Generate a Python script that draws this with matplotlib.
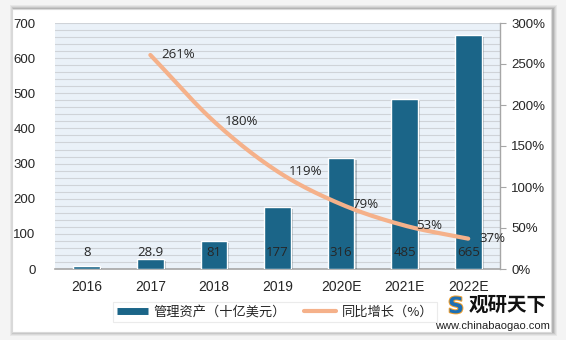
import numpy as np
import matplotlib
matplotlib.use("Agg")
import matplotlib.pyplot as plt
from matplotlib import patheffects as pe
from matplotlib.patches import Rectangle
from matplotlib.lines import Line2D

plt.rcParams['font.family'] = ['Liberation Sans', 'Noto Sans CJK SC', 'DejaVu Sans']

categories = ["2016", "2017", "2018", "2019", "2020E", "2021E", "2022E"]
aum = [8, 28.9, 81, 177, 316, 485, 665]
aum_labels = ["8", "28.9", "81", "177", "316", "485", "665"]
growth = [None, 2.61, 1.80, 1.19, 0.79, 0.53, 0.37]
growth_labels = [None, "261%", "180%", "119%", "79%", "53%", "37%"]
left_ticks = [0, 100, 200, 300, 400, 500, 600, 700]
right_ticks = [0, 0.5, 1.0, 1.5, 2.0, 2.5, 3.0]
right_tick_labels = ["0%", "50%", "100%", "150%", "200%", "250%", "300%"]
legend_labels = ["管理资产（十亿美元）", "同比增长（%）"]

bar_color = "#1b6588"
line_color = "#f5b18a"
text_color = "#262626"

W, H = 566, 340
fig = plt.figure(figsize=(W / 100, H / 100), dpi=100)
fig.patch.set_facecolor("#f4f4f4")

# white panel with shadow
for i, a in enumerate([0.05, 0.06, 0.08, 0.10]):
    off = 4 - i
    fig.patches.append(Rectangle(((12 - off + 2) / W, 1 - (332 + off) / H), (539 + 2 * off) / W, (323 + 2 * off) / H,
                                 transform=fig.transFigure, facecolor="black", alpha=a, edgecolor="none", zorder=0))
fig.patches.append(Rectangle((12 / W, 1 - 332 / H), 539 / W, 323 / H, transform=fig.transFigure,
                             facecolor="white", edgecolor="#d9d9d9", lw=0.8, zorder=1))

ax = fig.add_axes([55 / W, 1 - 269 / H, 445 / W, 246 / H])
ax.set_zorder(2)
ax.set_facecolor("#eaf1f8")
x = np.arange(len(categories))
ax.set_xlim(-0.5, len(categories) - 0.5)
ax.set_ylim(0, 700)
ax.set_yticks(left_ticks)
ax.set_yticks(np.arange(0, 701, 20), minor=True)
ax.yaxis.grid(True, which="both", color="#cfd3d8", lw=0.8)
ax.set_axisbelow(True)
ax.tick_params(axis="y", length=0, labelsize=9.5, colors=text_color, pad=14, which="both")
ax.tick_params(axis="x", length=0, labelsize=10, colors=text_color, pad=8)
ax.set_xticks(x)
ax.set_xticklabels(categories)
for s in ["top", "right", "left"]:
    ax.spines[s].set_visible(False)
ax.spines["bottom"].set_color("#a6a6a6")
ax.spines["bottom"].set_linewidth(1.2)

bars = ax.bar(x, aum, width=0.42, color=bar_color, edgecolor="white", lw=1.0, zorder=3,
              path_effects=[pe.SimplePatchShadow(offset=(1.5, -1.5), alpha=0.25), pe.Normal()])
for xi, lab in zip(x, aum_labels):
    ax.annotate(lab, (xi, 0), xytext=(0, 12), textcoords="offset points", ha="center", va="center",
                fontsize=9.5, color=text_color, zorder=6, family=["Open Sans", "DejaVu Sans"])

ax2 = ax.twinx()
ax2.set_ylim(0, 3.0)
ax2.set_yticks(right_ticks)
ax2.set_yticklabels(right_tick_labels)
ax2.tick_params(axis="y", length=4, color="#a6a6a6", labelsize=9.5, colors=text_color, pad=4)
for s in ["top", "left", "bottom"]:
    ax2.spines[s].set_visible(False)
ax2.spines["right"].set_color("#a6a6a6")
ax2.spines["right"].set_linewidth(1.0)

# smoothed line (Catmull-Rom through the data points)
gx = np.array([xi for xi, g in zip(x, growth) if g is not None], dtype=float)
gy = np.array([g for g in growth if g is not None], dtype=float)
P = np.column_stack([gx, gy])
Pext = np.vstack([2 * P[0] - P[1], P, 2 * P[-1] - P[-2]])
xs, ys = [], []
for i in range(1, len(Pext) - 2):
    p0, p1, p2, p3 = Pext[i - 1], Pext[i], Pext[i + 1], Pext[i + 2]
    t = np.linspace(0, 1, 30)[:, None]
    c = 0.5 * ((2 * p1) + (-p0 + p2) * t + (2 * p0 - 5 * p1 + 4 * p2 - p3) * t ** 2 + (-p0 + 3 * p1 - 3 * p2 + p3) * t ** 3)
    xs.extend(c[:, 0]); ys.extend(c[:, 1])
ax2.plot(xs, ys, color=line_color, lw=3, solid_capstyle="round", zorder=5)
for xi, g, lab in zip(x, growth, growth_labels):
    if g is None:
        continue
    ax2.annotate(lab, (xi, g), xytext=(8, 0), textcoords="offset points", ha="left", va="center",
                 fontsize=9.5, color=text_color, zorder=6, family=["Open Sans", "DejaVu Sans"])

# legend
handles = [Line2D([], [], color=bar_color, lw=5, solid_capstyle="butt"),
           Line2D([], [], color=line_color, lw=3, solid_capstyle="round")]
leg = fig.legend(handles, legend_labels, loc="center left", bbox_to_anchor=(106 / W, 1 - 312 / H), ncol=2,
                 frameon=True, fancybox=False, shadow=False, handlelength=2.4,
                 columnspacing=1.4, prop={"family": ["Noto Sans CJK SC", "DejaVu Sans"], "size": 9.5},
                 borderpad=0.3, handletextpad=0.4)
leg.get_frame().set_edgecolor("#e6e6e6")
leg.get_frame().set_linewidth(0.8)
for t in leg.get_texts():
    t.set_color(text_color)
leg.set_zorder(3)

# logo
fig.text(508 / W, 1 - 305 / H, "观研天下", ha="center", va="center", fontsize=14, fontweight="bold",
         family=["Noto Sans CJK SC"], color="#111111", zorder=10)
fig.text(492 / W, 1 - 326 / H, "www.chinabaogao.com", ha="center", va="center", fontsize=8,
         family=["Liberation Sans"], color="#222222", zorder=10)
fig.text(456 / W, 1 - 307 / H, "S", ha="center", va="center", fontsize=16, fontweight="bold",
         family=["DejaVu Sans"], color="#1b6fb5", zorder=10,
         path_effects=[pe.withStroke(linewidth=1.5, foreground="#f0a030")])

fig.savefig("out.png", dpi=100, facecolor=fig.get_facecolor())
